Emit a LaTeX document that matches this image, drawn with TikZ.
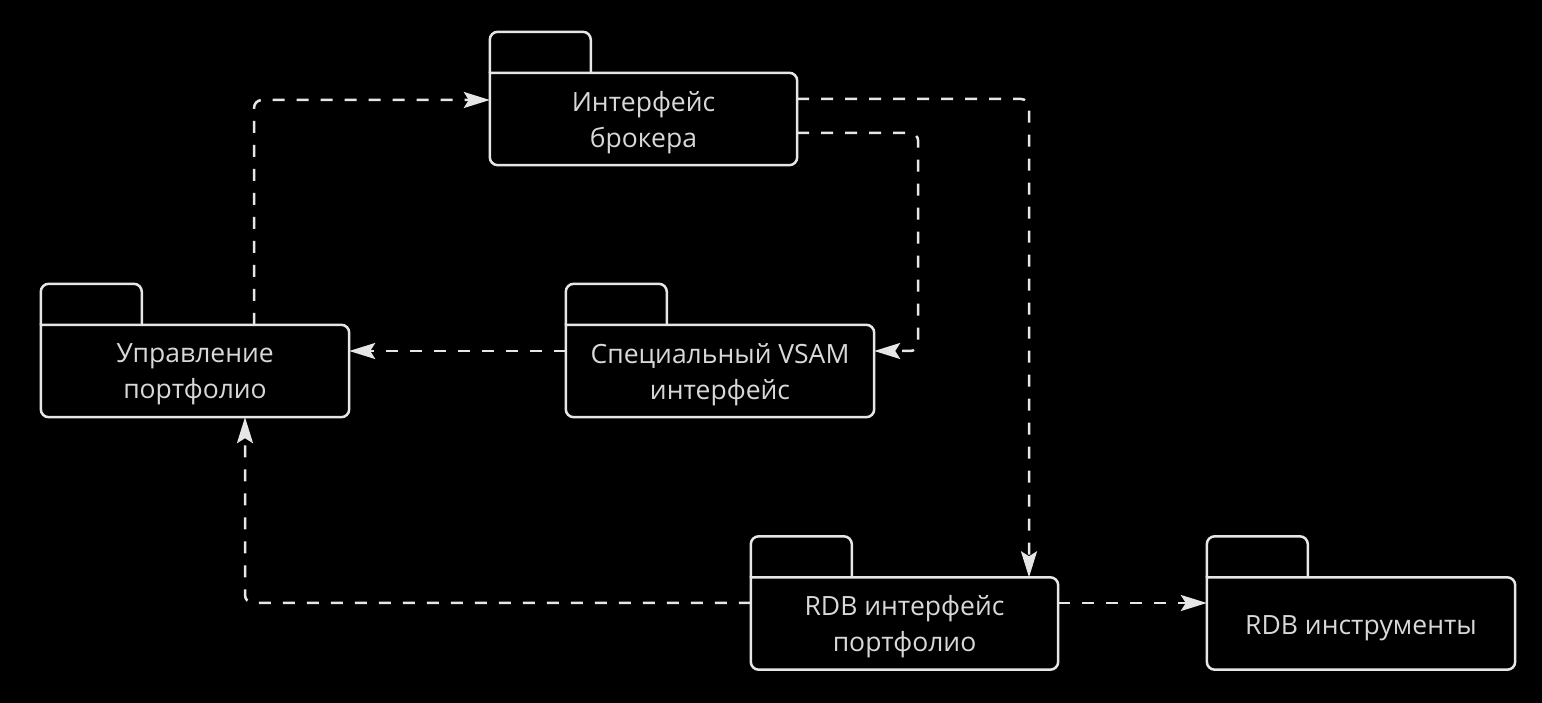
\documentclass[tikz,border=0pt]{standalone}
\usepackage{fontspec}
\setmainfont{Open Sans}
\usetikzlibrary{arrows.meta,calc}
\definecolor{linec}{HTML}{E6E6E6}
\definecolor{textc}{HTML}{D8D8D8}
\newcommand\pkgframe[1]{%
  \draw[pkgline] (#1.north west) -- ([xshift=-8pt]#1.north east)
    arc[start angle=90,end angle=0,radius=8pt] -- ([yshift=8pt]#1.south east)
    arc[start angle=0,end angle=-90,radius=8pt] -- ([xshift=8pt]#1.south west)
    arc[start angle=270,end angle=180,radius=8pt] -- cycle;
  \draw[pkgline] (#1.north west) -- ++(0,33pt)
    arc[start angle=180,end angle=90,radius=8pt] -- ++(85pt,0)
    arc[start angle=90,end angle=0,radius=8pt] -- ++(0,-33pt);
}
\tikzset{
  pkg/.style={draw=none, rectangle, minimum width=307pt, minimum height=92pt,
    inner sep=0pt},
  pkgtext/.style={inner sep=0pt, text=textc, align=center,
    font=\fontsize{26.5}{36}\selectfont},
  pkgline/.style={draw=linec, line width=2.5pt},
  dep/.style={draw=linec, line width=2.5pt, dash pattern=on 12pt off 12pt,
    rounded corners=8pt,
    -{Stealth[length=26pt,width=16pt,inset=5pt,fill=linec,color=linec]}},
}
\begin{document}
\begin{tikzpicture}[x=1pt,y=1pt]
\fill[black] (0,0) rectangle (1542,703);
\useasboundingbox (0,0) rectangle (1542,703);
\node[pkg] (broker) at (643.5,584) {};
\node[pkg, minimum width=308pt] (port) at (195,332) {};
\node[pkg, minimum width=308pt] (vsam) at (720,332) {};
\node[pkg] (rdbi) at (904.5,79.5) {};
\node[pkg, minimum width=308pt] (rdbt) at (1361,79.5) {};
\node[pkgtext] (broker-t) at ([yshift=-3.5pt]broker.center) {Интерфейс\\брокера};
\node[pkgtext] (port-t) at ([yshift=-3.5pt]port.center) {Управление\\портфолио};
\node[pkgtext] (vsam-t) at ([yshift=-3.5pt]vsam.center) {Специальный VSAM\\интерфейс};
\node[pkgtext] (rdbi-t) at ([yshift=-3.5pt]rdbi.center) {RDB интерфейс\\портфолио};
\node[pkgtext] (rdbt-t) at ([yshift=-5pt]rdbt.center) {RDB инструменты};
\pkgframe{broker}
\pkgframe{port}
\pkgframe{vsam}
\pkgframe{rdbi}
\pkgframe{rdbt}
\draw[dep] ([xshift=59pt]port.north) |- ([yshift=19pt]broker.west);
\draw[dep] ([yshift=20pt]broker.east) -| ([xshift=124.5pt]rdbi.north);
\draw[dep] ([yshift=-14pt]broker.east) -- ++(121pt,0) |- ([yshift=20pt]vsam.east);
\draw[dep] ([yshift=20pt]vsam.west) -- ([yshift=20pt]port.east);
\draw[dep] ([yshift=20.5pt]rdbi.west) -| ([xshift=50pt]port.south);
\draw[dep] ([yshift=20.5pt]rdbi.east) -- ([yshift=20.5pt]rdbt.west);
\end{tikzpicture}
\end{document}
